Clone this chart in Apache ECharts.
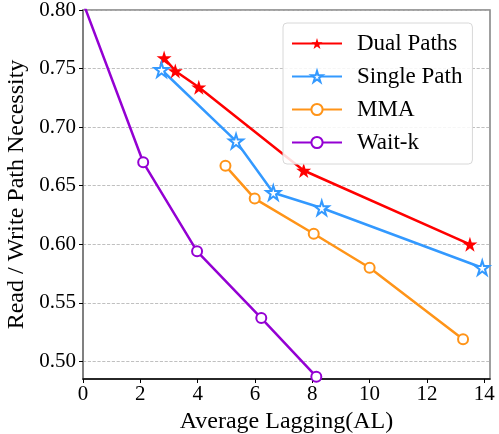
<!DOCTYPE html>
<html lang="en">
<head>
  <meta charset="UTF-8">
  <title>Read / Write Path Necessity</title>
  <style>
    html, body { margin: 0; padding: 0; background: #fff; }
    #main { width: 499px; height: 434px; }
  </style>
</head>
<body>
  <div id="main"></div>
  <script src="https://cdn.jsdelivr.net/npm/echarts@6/dist/echarts.min.js"></script>
  <script>
    // data: [AL, necessity]
    var dualPaths = [[2.83, 0.759], [3.22, 0.748], [4.04, 0.734], [7.70, 0.663], [13.5, 0.600]];
    var singlePath = [[2.74, 0.749], [5.34, 0.688], [6.64, 0.644], [8.33, 0.631], [13.93, 0.580]];
    var mma = [[4.97, 0.667], [5.99, 0.639], [8.05, 0.609], [10.0, 0.580], [13.26, 0.519]];
    // first wait-k point lies outside the axes (clipped)
    var waitK = [[-0.9, 0.865], [2.10, 0.670], [3.98, 0.594], [6.22, 0.537], [8.14, 0.487]];

    var xTicks = [0, 2, 4, 6, 8, 10, 12, 14];
    var yTicks = [0.50, 0.55, 0.60, 0.65, 0.70, 0.75, 0.80];

    var FONT = 'Liberation Serif';
    var STAR = 'path://M100,0 L122.45,69.1 L195.1,69.1 L136.33,111.8 L158.8,180.9 L100,138.2 L41.2,180.9 L63.67,111.8 L4.9,69.1 L77.55,69.1 Z';

    function mkSeries(name, data, color, symbol, size, filled) {
      return {
        name: name,
        type: 'line',
        data: data,
        clip: true,
        symbol: symbol,
        symbolSize: size,
        showAllSymbol: true,
        lineStyle: { color: color, width: 2.5 },
        itemStyle: { color: filled ? color : '#fff', borderColor: color, borderWidth: filled ? 0 : 2 },
        emphasis: { disabled: true },
        z: 3
      };
    }

    var myChart = echarts.init(document.getElementById('main'));

    var option = {
      animation: false,
      backgroundColor: '#fff',
      grid: {
        left: 83, right: 9, top: 10, bottom: 55,
        outerBoundsMode: 'none',
        containLabel: false,
        show: true, borderColor: '#808080', borderWidth: 1.5
      },
      legend: {
        orient: 'vertical',
        left: 283, top: 23,
        width: 196,
        padding: [9, 10, 10, 8],
        itemWidth: 50, itemHeight: 14, itemGap: 10,
        backgroundColor: 'rgba(255,255,255,0.85)',
        borderColor: '#d8d8d8', borderWidth: 1, borderRadius: 4,
        textStyle: { fontFamily: FONT, fontSize: 23, color: '#000', lineHeight: 23, padding: [0, 0, 0, 10] },
        data: ['Dual Paths', 'Single Path', 'MMA', 'Wait-k']
      },
      xAxis: {
        type: 'value',
        min: 0, max: 14.2,
        name: 'Average Lagging(AL)',
        nameLocation: 'middle',
        nameGap: 21,
        nameTextStyle: { fontFamily: FONT, fontSize: 24, color: '#000' },
        axisLine: { show: true, onZero: false, lineStyle: { color: '#000', width: 1.5 } },
        axisTick: { show: true, inside: false, length: 4, customValues: xTicks, lineStyle: { color: '#000' } },
        axisLabel: {
          customValues: xTicks, margin: 5,
          fontFamily: FONT, fontSize: 21, color: '#000'
        },
        splitLine: { show: false }
      },
      yAxis: {
        type: 'value',
        min: 0.485, max: 0.80,
        name: 'Read / Write Path Necessity',
        nameLocation: 'middle',
        nameGap: 54,
        nameTextStyle: { fontFamily: FONT, fontSize: 24, color: '#000' },
        axisLine: { show: true, onZero: false, lineStyle: { color: '#808080', width: 2 } },
        axisTick: { show: true, inside: false, length: 4, customValues: yTicks, lineStyle: { color: '#000' } },
        axisLabel: {
          customValues: yTicks, margin: 7,
          fontFamily: FONT, fontSize: 21, color: '#000',
          formatter: function (v) { return v.toFixed(2); }
        },
        splitLine: { show: true, lineStyle: { color: '#b0b0b0', type: 'dashed', width: 0.8 } }
      },
      series: [
        mkSeries('Dual Paths', dualPaths, '#ff0000', STAR, 15, true),
        mkSeries('Single Path', singlePath, '#3399ff', STAR, 14, false),
        mkSeries('MMA', mma, '#ff9418', 'circle', 10, false),
        mkSeries('Wait-k', waitK, '#9400d3', 'circle', 10, false)
      ]
    };

    myChart.setOption(option);
  </script>
</body>
</html>
